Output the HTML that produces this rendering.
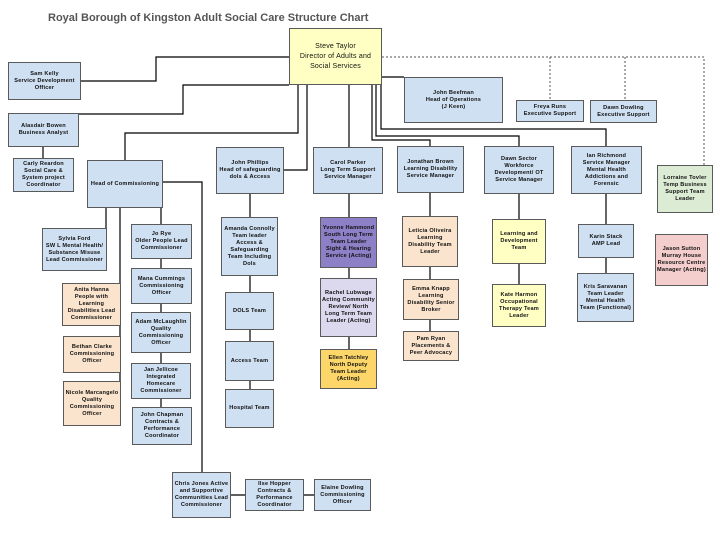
<!DOCTYPE html>
<html><head><meta charset="utf-8"><style>
body{margin:0;width:720px;height:540px;background:#fff;position:relative;overflow:hidden;font-family:"Liberation Sans",sans-serif}
.b{position:absolute;box-sizing:border-box;border:1px solid #5a5a5a;background:#cfe0f2;display:flex;align-items:center;justify-content:center;text-align:center;font-size:5.6px;line-height:7px;color:#111;font-weight:bold;letter-spacing:0.2px;padding:1px}
.y{background:#ffffc4}.p{background:#fbe4cd}.g{background:#dcebd4}.k{background:#f4cdcd}.v{background:#8d80c6}.l{background:#dcd8ee}.o{background:#fcd668}
svg{position:absolute;left:0;top:0}
h1{position:absolute;left:48px;top:12px;margin:0;font-size:11px;color:#555;font-weight:bold}
</style></head><body>
<svg width="720" height="540" stroke="#000" stroke-width="1.2" fill="none">
<path d="M289 57H156V81H81"/>
<path d="M289 85H183V114H79"/>
<path d="M43 147V158"/>
<path d="M298 85V133H125V160"/>
<path d="M307 85V170H284"/>
<path d="M349 85V147"/>
<path d="M382 77H404"/>
<path d="M372 85V140H430V146"/>
<path d="M376 85V136H519V146"/>
<path d="M381 85V129H606V146"/>
<path d="M163 182H202V472"/>
<path d="M106 208V228"/>
<path d="M120 208V403"/>
<path d="M161 208V407"/>
<path d="M250 194V389"/>
<path d="M349 194V349"/>
<path d="M430 193V331"/>
<path d="M519 194V284"/>
<path d="M606 194V273"/>
<path d="M231 495H314"/>
<path stroke="#555" stroke-width="1" stroke-dasharray="2,2" d="M382 57H704V165M550 57V100M625 57V100"/>
</svg>
<h1>Royal Borough of Kingston Adult Social Care Structure Chart</h1>
<div class="b y" style="left:289px;top:28px;width:93px;height:57px;font-size:7px;line-height:10px;font-weight:normal">Steve Taylor<br>Director of Adults and Social Services</div>
<div class="b" style="left:8px;top:62px;width:73px;height:38px">Sam Kelly<br>Service Development Officer</div>
<div class="b" style="left:404px;top:77px;width:99px;height:46px">John Beefman<br>Head of Operations<br>(J Keen)</div>
<div class="b" style="left:516px;top:100px;width:68px;height:22px">Freya Runs<br>Executive Support</div>
<div class="b" style="left:590px;top:100px;width:67px;height:23px">Dawn Dowling<br>Executive Support</div>
<div class="b" style="left:8px;top:113px;width:71px;height:34px">Alasdair Bowen<br>Business Analyst</div>
<div class="b" style="left:13px;top:158px;width:61px;height:34px">Carly Reardon Social Care &amp; System project Coordinator</div>
<div class="b" style="left:87px;top:160px;width:76px;height:48px">Head of Commissioning</div>
<div class="b" style="left:216px;top:147px;width:68px;height:47px">John Phillips<br>Head of safeguarding dols &amp; Access</div>
<div class="b" style="left:313px;top:147px;width:70px;height:47px">Carol Parker<br>Long Term Support Service Manager</div>
<div class="b" style="left:397px;top:146px;width:67px;height:47px">Jonathan Brown<br>Learning Disability Service Manager</div>
<div class="b" style="left:484px;top:146px;width:70px;height:48px">Dawn Sector<br>Workforce Development/ OT Service Manager</div>
<div class="b" style="left:571px;top:146px;width:71px;height:48px">Ian Richmond<br>Service Manager Mental Health Addictions and Forensic</div>
<div class="b g" style="left:657px;top:165px;width:56px;height:48px">Lorraine Tovler Temp Business Support Team Leader</div>
<div class="b" style="left:42px;top:228px;width:65px;height:43px">Sylvia Ford<br>SW L Mental Health/ Substance Misuse Lead Commissioner</div>
<div class="b p" style="left:62px;top:283px;width:59px;height:43px">Anita Hanna<br>People with Learning Disabilities Lead Commissioner</div>
<div class="b p" style="left:63px;top:336px;width:58px;height:37px">Bethan Clarke Commissioning Officer</div>
<div class="b p" style="left:63px;top:381px;width:58px;height:45px">Nicole Marcangelo Quality Commissioning Officer</div>
<div class="b" style="left:131px;top:224px;width:61px;height:35px">Jo Rye<br>Older People Lead Commissioner</div>
<div class="b" style="left:131px;top:268px;width:61px;height:36px">Mana Cummings Commissioning Officer</div>
<div class="b" style="left:131px;top:312px;width:60px;height:41px">Adam McLaughlin Quality Commissioning Officer</div>
<div class="b" style="left:131px;top:363px;width:60px;height:36px">Jan Jellicoe Integrated Homecare Commissioner</div>
<div class="b" style="left:132px;top:407px;width:60px;height:38px">John Chapman Contracts &amp; Performance Coordinator</div>
<div class="b" style="left:221px;top:217px;width:57px;height:59px">Amanda Connolly Team leader Access &amp; Safeguarding Team Including Dols</div>
<div class="b" style="left:225px;top:292px;width:49px;height:38px">DOLS Team</div>
<div class="b" style="left:225px;top:341px;width:49px;height:40px">Access Team</div>
<div class="b" style="left:225px;top:389px;width:49px;height:39px">Hospital Team</div>
<div class="b v" style="left:320px;top:217px;width:57px;height:51px">Yvonne Hammond South Long Term Team Leader Sight &amp; Hearing Service (Acting)</div>
<div class="b l" style="left:320px;top:278px;width:57px;height:59px">Rachel Lubwage Acting Community Review/ North Long Term Team Leader (Acting)</div>
<div class="b o" style="left:320px;top:349px;width:57px;height:40px">Ellen Tatchley North Deputy Team Leader (Acting)</div>
<div class="b p" style="left:402px;top:216px;width:56px;height:51px">Leticia Oliveira Learning Disability Team Leader</div>
<div class="b p" style="left:403px;top:279px;width:56px;height:41px">Emma Knapp Learning Disability Senior Broker</div>
<div class="b p" style="left:403px;top:331px;width:56px;height:30px">Pam Ryan Placements &amp; Peer Advocacy</div>
<div class="b y" style="left:492px;top:219px;width:54px;height:45px">Learning and Development Team</div>
<div class="b y" style="left:492px;top:284px;width:54px;height:43px">Kate Harmon Occupational Therapy Team Leader</div>
<div class="b" style="left:578px;top:224px;width:56px;height:34px">Karin Stack<br>AMP Lead</div>
<div class="b" style="left:577px;top:273px;width:57px;height:49px">Kris Saravanan Team Leader Mental Health Team (Functional)</div>
<div class="b k" style="left:655px;top:234px;width:53px;height:52px">Jason Sutton Murray House Resource Centre Manager (Acting)</div>
<div class="b" style="left:172px;top:472px;width:59px;height:46px">Chris Jones Active and Supportive Communities Lead Commissioner</div>
<div class="b" style="left:245px;top:479px;width:59px;height:32px">Ilse Hopper Contracts &amp; Performance Coordinator</div>
<div class="b" style="left:314px;top:479px;width:57px;height:32px">Elaine Dowling Commissioning Officer</div>
</body></html>
